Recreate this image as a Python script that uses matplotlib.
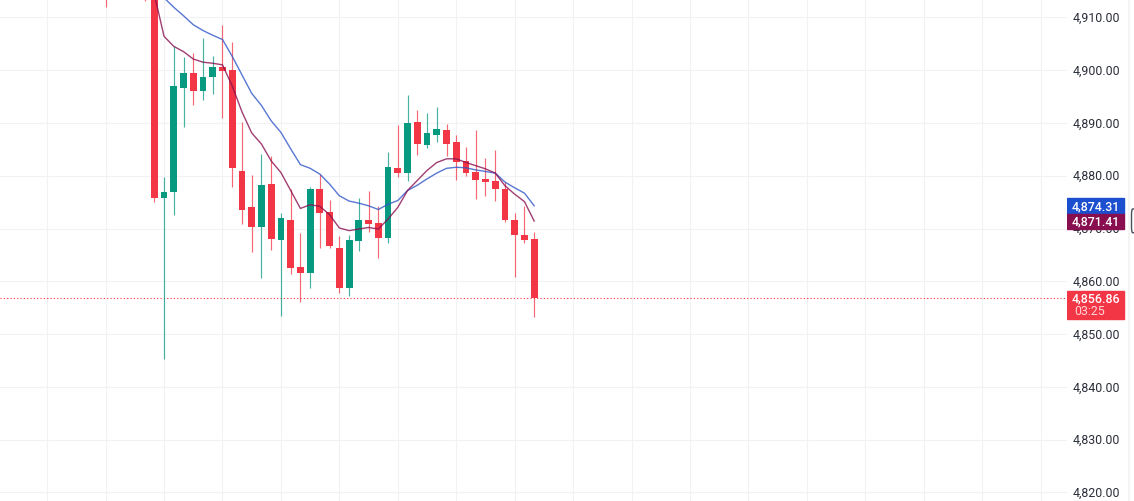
import numpy as np
import matplotlib
matplotlib.use("Agg")
from matplotlib import pyplot as plt
from matplotlib.patches import Rectangle, FancyBboxPatch

plt.rcParams['font.family'] = ['Roboto', 'DejaVu Sans']

opens = [4925.0, 4875.8, 4876.9, 4896.6, 4899.5, 4896.0, 4898.7, 4900.6, 4900.1, 4880.9,
         4874.0, 4870.3, 4878.4, 4867.8, 4871.7, 4862.7, 4861.6, 4877.4, 4873.1, 4866.3,
         4858.7, 4867.6, 4871.7, 4871.0, 4868.2, 4881.5, 4880.5, 4890.2, 4885.8, 4887.7,
         4888.6, 4886.3, 4882.7, 4880.7, 4879.4, 4879.0, 4877.5, 4871.7, 4868.8, 4868.0]
closes = [4875.8, 4877.0, 4896.9, 4899.5, 4896.0, 4898.7, 4900.6, 4899.8, 4881.5, 4873.5,
          4870.3, 4878.2, 4868.0, 4871.9, 4862.5, 4861.6, 4877.4, 4872.9, 4866.6, 4858.7,
          4867.8, 4871.7, 4870.8, 4868.2, 4881.6, 4880.5, 4890.0, 4886.1, 4888.0, 4888.8,
          4886.1, 4882.6, 4880.6, 4879.2, 4878.8, 4877.4, 4871.6, 4868.8, 4867.8, 4856.86]
highs = [4926.0, 4879.7, 4904.5, 4902.4, 4903.2, 4906.1, 4902.7, 4908.6, 4905.3, 4890.1,
         4880.2, 4884.2, 4883.8, 4872.9, 4877.5, 4869.1, 4877.8, 4880.3, 4875.4, 4868.5,
         4868.8, 4875.7, 4877.1, 4874.3, 4884.4, 4889.6, 4895.2, 4892.4, 4891.9, 4893.1,
         4889.8, 4887.8, 4885.4, 4888.7, 4883.4, 4884.9, 4878.8, 4872.9, 4874.2, 4869.4]
lows = [4875.0, 4845.3, 4872.6, 4889.3, 4893.4, 4894.3, 4895.5, 4890.9, 4877.9, 4870.9,
        4865.5, 4860.6, 4865.9, 4853.5, 4861.4, 4856.1, 4858.8, 4866.4, 4866.3, 4857.7,
        4857.2, 4865.7, 4869.3, 4864.4, 4867.3, 4879.7, 4879.0, 4884.0, 4885.3, 4886.3,
        4883.7, 4879.2, 4879.9, 4875.6, 4876.2, 4875.3, 4871.3, 4860.9, 4867.3, 4853.3]

# two older candles, only their lower wicks reach into the view
old_idx = [-5, -1]
old_lows = [4912.0, 4913.1]

ma_blue = [4918.0, 4913.7, 4911.9, 4910.3, 4908.6, 4907.5, 4906.6, 4905.8, 4902.6, 4899.1,
           4895.6, 4893.3, 4890.4, 4888.2, 4885.1, 4882.1, 4881.4, 4880.3, 4878.4, 4876.2,
           4875.2, 4874.8, 4874.3, 4873.6, 4874.6, 4875.3, 4877.2, 4878.2, 4879.4, 4880.5,
           4881.4, 4881.6, 4881.5, 4881.1, 4880.8, 4880.5, 4878.8, 4877.7, 4876.7, 4874.31]
ma_purple = [4914.4, 4906.4, 4904.5, 4903.5, 4902.1, 4901.5, 4901.3, 4901.0, 4897.0, 4892.1,
             4888.1, 4886.0, 4882.8, 4880.6, 4877.2, 4873.8, 4874.5, 4874.2, 4872.6, 4870.1,
             4869.6, 4869.9, 4870.2, 4869.9, 4871.8, 4874.0, 4877.2, 4879.1, 4881.0, 4882.5,
             4883.2, 4883.2, 4882.5, 4881.9, 4881.3, 4880.5, 4878.1, 4876.5, 4875.1, 4871.41]

price_ticks = [4820, 4830, 4840, 4850, 4860, 4870, 4880, 4890, 4900, 4910]
last_price = 4856.86
countdown = "03:25"

RED = "#F23645"
GREEN = "#089981"
GRID = "#F1F2F4"
W, H = 1134, 502
AXIS_X = 1067
YLIM = (4818.39, 4913.47)
XLIM = (-15.84, 93.7)

fig = plt.figure(figsize=(W / 100, H / 100), dpi=100, facecolor="white")
ax = fig.add_axes([0, 0, AXIS_X / W, 1])
side = fig.add_axes([AXIS_X / W, 0, 1 - AXIS_X / W, 1])

ax.set_xlim(*XLIM)
ax.set_ylim(*YLIM)
ax.set_xticks(np.arange(-11, 94, 6))
ax.set_yticks(price_ticks)
ax.grid(color=GRID, lw=0.75)
ax.set_axisbelow(True)
ax.tick_params(length=0, labelbottom=False, labelleft=False)
for s in ax.spines.values():
    s.set_visible(False)

idx = np.arange(len(opens))
o = np.array(opens)
c = np.array(closes)
colors = [GREEN if b > a else RED for a, b in zip(opens, closes)]

ax.vlines(idx, lows, highs, colors=colors, lw=0.85, alpha=0.75, zorder=2)
ax.vlines(old_idx, old_lows, YLIM[1], colors=RED, lw=0.85, alpha=0.75, zorder=2)
ax.bar(idx, np.abs(c - o), bottom=np.minimum(o, c), width=0.7, color=colors, zorder=3)

ax.plot(idx, ma_blue, color="#2F55C8", lw=1, alpha=0.8, zorder=4)
ax.plot(idx, ma_purple, color="#880E4F", lw=1, alpha=0.8, zorder=4)
ax.axhline(last_price, color=RED, lw=0.8, ls=(0, (1, 2)), zorder=1)

# price scale on the right
side.set_xlim(0, W - AXIS_X)
side.set_ylim(*YLIM)
side.axis("off")
side.axvspan(61, 63, color="#F4F4F5", lw=0)
font = dict(fontsize=8.9, ha="center", va="center")
for p in price_ticks:
    side.text(29, p, f"{p:,.2f}", color="#2A2E39", **font)

side.add_patch(Rectangle((0, 4872.7), 56.5, 3.1, color="#1C4FD0", zorder=3))
side.add_patch(Rectangle((0, 4869.9), 56.5, 2.8, color="#880E4F", zorder=3))
side.add_patch(Rectangle((0, 4852.8), 56.5, 5.4, color=RED, zorder=3))
side.text(29, ma_blue[-1], f"{ma_blue[-1]:,.2f}", color="white", fontweight="medium", zorder=4, **font)
side.text(29, ma_purple[-1], f"{ma_purple[-1]:,.2f}", color="white", fontweight="medium", zorder=4, **font)
side.text(29, last_price, f"{last_price:,.2f}", color="white", fontweight="medium", zorder=4, **font)
side.text(7, 4854.4, countdown, color="#FFD5D9", fontsize=8.9, ha="left", va="center", zorder=4)
side.add_patch(FancyBboxPatch((64.5, 4869.2), 6, 4.5, boxstyle="round,pad=0,rounding_size=1.2",
                              fc="white", ec="#4A4F5C", lw=1, zorder=3))

fig.savefig("out.png", dpi=100)
